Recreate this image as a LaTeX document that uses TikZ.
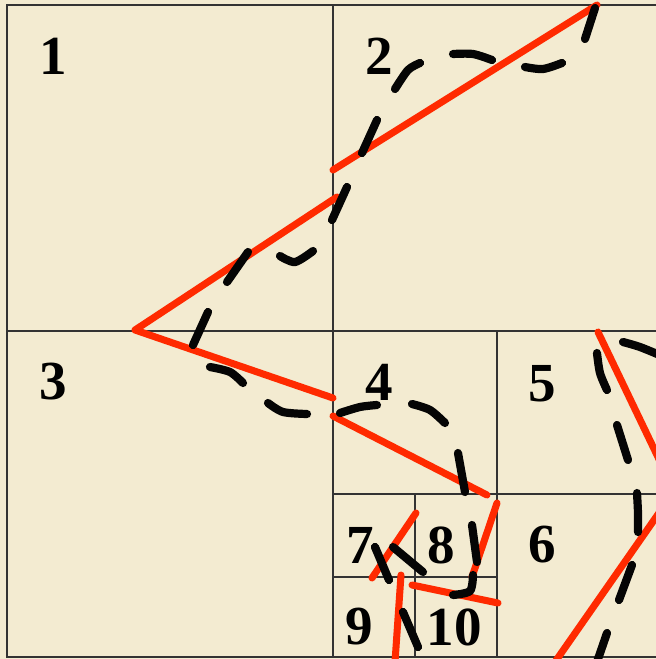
\documentclass[tikz,border=0pt]{standalone}
\usepackage{fontspec}
\setmainfont{Liberation Serif}
\definecolor{cPaper}{HTML}{F3EBD1}
\definecolor{cGrid}{HTML}{333333}
\definecolor{cCut}{HTML}{FF2A00}
\definecolor{cDash}{HTML}{050505}
\tikzset{
  gridln/.style = {draw=cGrid, line width=1.3pt},
  cut/.style    = {draw=cCut, line width=6pt, line cap=round, line join=round},
  dsh/.style    = {draw=cDash, line width=7pt, line cap=round},
  num/.style    = {font=\fontsize{47}{50}\selectfont\bfseries, inner sep=0pt},
}
\begin{document}
\begin{tikzpicture}[x=0.03cm, y=-0.03cm]
  \useasboundingbox (0,0) rectangle (656,659);
  \fill[cPaper] (0,0) rectangle (656,659);
  \clip (0,0) rectangle (656,659);

  \draw[gridln] (660,5) -- (7,5) -- (7,657) -- (660,657);
  \draw[gridln] (333,5) -- (333,657);
  \draw[gridln] (7,331) -- (660,331);
  \draw[gridln] (333,494) -- (660,494);
  \draw[gridln] (497,331) -- (497,657);
  \draw[gridln] (415,494) -- (415,657);
  \draw[gridln] (333,577) -- (497,577);

  \node[num] (n1)  at (53,56)   {1};
  \node[num] (n2)  at (379,56)  {2};
  \node[num] (n3)  at (53,382)  {3};
  \node[num] (n4)  at (379,382) {4};
  \node[num] (n5)  at (542,384) {5};
  \node[num] (n6)  at (542,545) {6};
  \node[num] (n7)  at (360,545) {7};
  \node[num] (n8)  at (441,545) {8};
  \node[num] (n9)  at (359,627) {9};
  \node[num] (n10) at (454,627) {10};

  \coordinate (tip) at (135,330);
  \draw[cut] (333,170) -- (597,5);
  \draw[cut] (337,197) -- (tip) -- (333,398);
  \draw[cut] (333,416) -- (487,495);
  \draw[cut] (497,503) -- (472,577);
  \draw[cut] (412,585) -- (498,603);
  \draw[cut] (416,513) -- (372,578);
  \draw[cut] (401,575) -- (395,662);
  \draw[cut] (598,332) -- (668,478);
  \draw[cut] (668,500) -- (555,662);

  \draw[dsh] (595,8) -- (585,39);
  \draw[dsh] plot[smooth] coordinates {(562,63) (543,69) (525,67)};
  \draw[dsh] plot[smooth] coordinates {(492,60) (473,54) (453,54)};
  \draw[dsh] plot[smooth] coordinates {(420,63) (408,70) (395,89)};
  \draw[dsh] (377,120) -- (362,153);
  \draw[dsh] (347,187) -- (332,220);
  \draw[dsh] plot[smooth] coordinates {(313,251) (295,262) (280,256)};
  \draw[dsh] (248,252) -- (227,282);
  \draw[dsh] (208,312) -- (193,345);
  \draw[dsh] plot[smooth] coordinates {(210,367) (230,372) (243,383)};
  \draw[dsh] plot[smooth] coordinates {(268,403) (283,412) (307,414)};
  \draw[dsh] plot[smooth] coordinates {(340,413) (360,407) (377,405)};
  \draw[dsh] plot[smooth] coordinates {(412,404) (430,410) (445,423)};
  \draw[dsh] (458,453) -- (465,492);
  \draw[dsh] (472,525) -- (477,562);
  \draw[dsh] plot[smooth] coordinates {(473,575) (470,591) (453,595)};
  \draw[dsh] (423,572) -- (393,547);
  \draw[dsh] (389,580) -- (375,547);
  \draw[dsh] (403,612) -- (418,647);
  \draw[dsh] (607,633) -- (597,662);
  \draw[dsh] (632,565) -- (619,600);
  \draw[dsh] plot[smooth] coordinates {(637,493) (638,513) (638,532)};
  \draw[dsh] (628,460) -- (617,425);
  \draw[dsh] plot[smooth] coordinates {(597,353) (600,373) (607,390)};
  \draw[dsh] plot[smooth] coordinates {(623,342) (640,347) (662,356)};
\end{tikzpicture}
\end{document}
